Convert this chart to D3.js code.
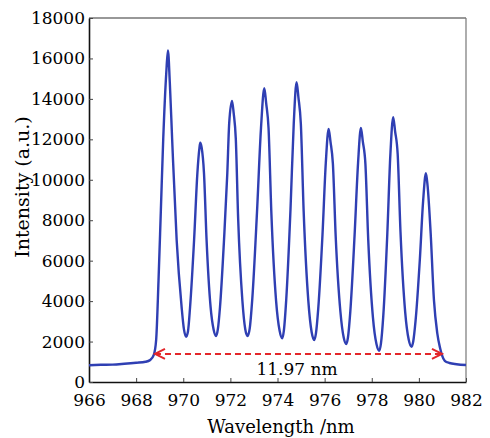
<!DOCTYPE html>
<html>
<head>
<meta charset="utf-8">
<script src="https://cdn.jsdelivr.net/npm/d3@7/dist/d3.min.js"></script>
<style>
body { margin: 0; background: #fff; }
text { font-family: "DejaVu Serif", serif; fill: #000; }
</style>
</head>
<body>
<svg width="490" height="438"></svg>
<script>
// spectrum (nm, a.u.)
const wavelength = [
	966, 966.5, 967, 967.5, 968, 968.4, 968.6, 968.75, 968.85, 968.95, 969.05, 969.15, 969.28, 969.35,
	969.43, 969.53, 969.72, 969.93, 970.03, 970.12,
	970.2, 970.29, 970.46, 970.6, 970.68, 970.72,
	970.78, 970.88, 970.99, 971.16, 971.29, 971.39,
	971.47, 971.56, 971.73, 971.87, 971.95, 972.07,
	972.14, 972.23, 972.33, 972.51, 972.63, 972.73,
	972.82, 972.93, 973.13, 973.3, 973.44,
	973.52, 973.62, 973.74, 973.94, 974.09, 974.2,
	974.27, 974.37, 974.55, 974.69, 974.81,
	974.89, 974.99, 975.11, 975.31, 975.45, 975.56,
	975.63, 975.73, 975.91, 976.05, 976.17,
	976.25, 976.35, 976.47, 976.67, 976.81, 976.92,
	976.99, 977.09, 977.27, 977.42, 977.54,
	977.62, 977.73, 977.85, 978.05, 978.2, 978.32,
	978.39, 978.49, 978.66, 978.79, 978.91,
	978.99, 979.1, 979.22, 979.42, 979.57, 979.69,
	979.76, 979.86, 980.04, 980.18, 980.3,
	980.37, 980.5, 980.64, 980.78, 980.9, 980.98, 981.1, 981.3, 981.6, 982
];
const intensity = [
	830, 850, 860, 900, 950, 1000, 1090, 1340, 2080, 5000, 8500, 12000, 15300, 16400,
	14800, 11970, 7020, 3710, 2600, 2240,
	2500, 3710, 7020, 10330, 11500, 11830,
	11600, 10330, 7020, 3710, 2580, 2275,
	2620, 3710, 7020, 10330, 12790, 13895,
	13300, 12036, 8085, 4018, 2624, 2275,
	2642, 4112, 8400, 12564, 14524,
	13782, 12546, 8343, 4015, 2532, 2161,
	2541, 4060, 8491, 12795, 14820,
	14055, 12781, 8448, 3988, 2459, 2077,
	2390, 3642, 7294, 10842, 12511,
	11873, 10810, 7195, 3474, 2198, 1879,
	2199, 3481, 7220, 10851, 12560,
	11899, 10798, 7054, 3200, 1878, 1548,
	1894, 3279, 7319, 11243, 13090,
	12409, 11275, 7418, 3448, 2086, 1746,
	2003, 3032, 6033, 8948, 10320,
	9700, 7370, 4050, 2420, 1680, 1335, 1050, 940, 880, 840
];
const xTicks = [966, 968, 970, 972, 974, 976, 978, 980, 982];
const yTicks = [0, 2000, 4000, 6000, 8000, 10000, 12000, 14000, 16000, 18000];
const spanEnds = [968.8, 980.98];
const spanLevel = 1390;
const spanLabel = "11.97 nm";

const svg = d3.select("svg");
const plotL = 89, plotR = 466, plotT = 18, plotB = 382;

const x = d3.scaleLinear().domain([966, 982]).range([plotL, plotR]);
const y = d3.scaleLinear().domain([0, 18000]).range([plotB, plotT]);

const points = wavelength.map((w, i) => [w, intensity[i]]);

// frame
svg.append("line").attr("x1", plotL).attr("x2", plotR).attr("y1", plotT).attr("y2", plotT)
	.attr("stroke", "#333").attr("stroke-width", 1.2);
svg.append("line").attr("x1", plotR).attr("x2", plotR).attr("y1", plotT).attr("y2", plotB)
	.attr("stroke", "#777").attr("stroke-width", 1.2);

const xAxis = svg.append("g")
	.attr("transform", `translate(0,${plotB})`)
	.call(d3.axisBottom(x).tickValues(xTicks).tickFormat(d3.format("d"))
		.tickSizeInner(-4).tickSizeOuter(0).tickPadding(12));
const yAxis = svg.append("g")
	.attr("transform", `translate(${plotL},0)`)
	.call(d3.axisLeft(y).tickValues(yTicks).tickFormat(d3.format("d"))
		.tickSizeInner(-4).tickSizeOuter(0).tickPadding(4));

[xAxis, yAxis].forEach((g) => {
	g.select(".domain").attr("stroke", "#111").attr("stroke-width", 1.6);
	g.selectAll(".tick line").attr("stroke", "#444");
	g.selectAll(".tick text").style("font-size", "17px").style("font-family", "DejaVu Serif, serif").attr("fill", "#000");
});

// spectrum
svg.append("path")
	.datum(points)
	.attr("fill", "none")
	.attr("stroke", "#2f3fb3")
	.attr("stroke-width", 2.4)
	.attr("stroke-linejoin", "round")
	.attr("d", d3.line().x((d) => x(d[0])).y((d) => y(d[1])).curve(d3.curveMonotoneX));

// bandwidth arrow
const defs = svg.append("defs");
["start", "end"].forEach((id) => {
	defs.append("marker")
		.attr("id", "arrow-" + id)
		.attr("viewBox", "-12 -7 14 14")
		.attr("markerWidth", 14)
		.attr("markerHeight", 14)
		.attr("markerUnits", "userSpaceOnUse")
		.attr("refX", 0)
		.attr("refY", 0)
		.attr("orient", id === "end" ? "auto" : "auto-start-reverse")
		.append("path")
		.attr("d", "M-10,-5L0,0L-10,5")
		.attr("fill", "none")
		.attr("stroke", "#e3262a")
		.attr("stroke-width", 2);
});

svg.append("line")
	.attr("x1", x(spanEnds[0]))
	.attr("x2", x(spanEnds[1]))
	.attr("y1", y(spanLevel))
	.attr("y2", y(spanLevel))
	.attr("stroke", "#e3262a")
	.attr("stroke-width", 2)
	.attr("stroke-dasharray", "6,4")
	.attr("marker-start", "url(#arrow-start)")
	.attr("marker-end", "url(#arrow-end)");

svg.append("text")
	.attr("x", x(974.83))
	.attr("y", y(346))
	.attr("text-anchor", "middle")
	.style("font-size", "17px")
	.text(spanLabel);

// axis titles
svg.append("text")
	.attr("x", 281)
	.attr("y", 433)
	.attr("text-anchor", "middle")
	.style("font-size", "18px")
	.text("Wavelength /nm");

svg.append("text")
	.attr("transform", "translate(29,187) rotate(-90)")
	.attr("text-anchor", "middle")
	.style("font-size", "19px")
	.text("Intensity (a.u.)");
</script>
</body>
</html>
